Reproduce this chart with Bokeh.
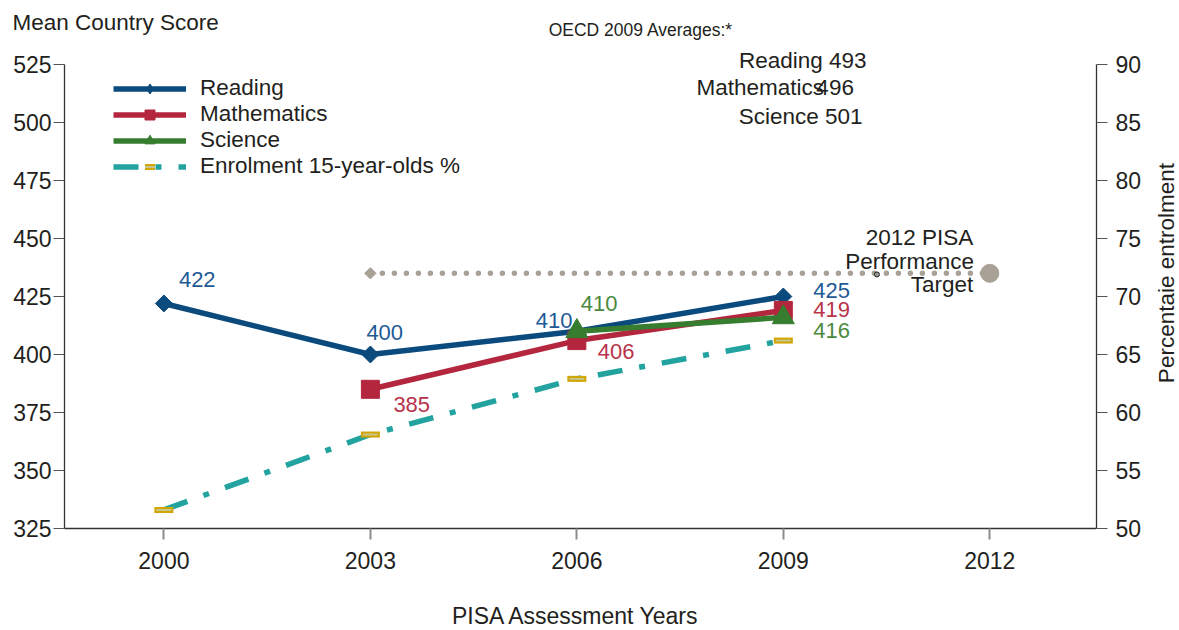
from bokeh.plotting import figure
from bokeh.models import (Range1d, LinearAxis, FixedTicker, Label, Legend, LegendItem)
from bokeh.core.properties import value
from bokeh.embed import file_html
from bokeh.resources import INLINE

# ---------------- data ----------------
years = [2000, 2003, 2006, 2009]
reading = [422, 400, 410, 425]
math_years = [2003, 2006, 2009]
mathematics = [385, 406, 419]
sci_years = [2006, 2009]
science = [410, 416]
enrolment = [51.6, 58.1, 62.9, 66.2]          # right axis, %
target_years = [2003, 2012]
target = [435, 435]
oecd_labels = ["Reading", "Mathematics", "Science"]
oecd_values = [493, 496, 501]
x_ticks = [2000, 2003, 2006, 2009, 2012]
left_ticks = [325, 350, 375, 400, 425, 450, 475, 500, 525]
right_ticks = [50, 55, 60, 65, 70, 75, 80, 85, 90]

# ---------------- styles ----------------
FONT = "Liberation Sans"
TXT = "#231f20"
FS = "22.5px"
TICK_FS = "23px"
C_READ, C_READ_T = "#0b4a7d", "#1e5a96"
C_MATH, C_MATH_T = "#b3263e", "#b8334b"
C_SCI, C_SCI_T = "#367d2f", "#4a8a3d"
C_ENR = "#23a39f"
C_GOLD, C_GOLD_FILL = "#d1a600", "#c9c58e"
C_TGT = "#a8a196"

p = figure(width=1179, height=630, output_backend="svg", toolbar_location=None,
           x_range=Range1d(1998.5557, 2013.5503), y_range=Range1d(325, 525),
           min_border_left=64, min_border_right=83, min_border_top=64,
           min_border_bottom=102)
p.xgrid.visible = False
p.ygrid.visible = False
p.outline_line_color = None
p.background_fill_color = "white"
p.border_fill_color = "white"
p.extra_y_ranges = {"enrol": Range1d(50, 90)}

def style_axis(ax, standoff, tick_color="#555555", tick_width=1):
    ax.axis_line_color = "#333333"
    ax.axis_line_width = 1.3
    ax.major_tick_line_color = tick_color
    ax.major_tick_line_width = tick_width
    ax.major_tick_out = 11
    ax.major_tick_in = 0
    ax.minor_tick_line_color = None
    ax.major_label_standoff = standoff
    ax.major_label_text_font = FONT
    ax.major_label_text_font_size = TICK_FS
    ax.major_label_text_color = TXT

xa = p.xaxis[0]
xa.ticker = FixedTicker(ticks=x_ticks)
style_axis(xa, 12, "#8c8c8c", 2)

ya = p.yaxis[0]
ya.ticker = FixedTicker(ticks=left_ticks)
style_axis(ya, 2)

ra = LinearAxis(y_range_name="enrol", ticker=FixedTicker(ticks=right_ticks))
style_axis(ra, 8)
p.add_layout(ra, "right")

# target line
p.line(target_years, target, line_color=C_TGT, line_width=5.5,
       line_dash="0 12", line_cap="round")
p.scatter([target_years[0]], [target[0]], marker="square", angle=0.785398,
          size=8, fill_color=C_TGT, line_color=C_TGT)
p.scatter([target_years[-1]], [target[-1]], marker="circle", size=18,
          fill_color=C_TGT, line_color=C_TGT)
# small annotation pointer of the target note
p.scatter([2010.36], [434.5], marker="circle", size=5, fill_color="#999999",
          line_color="#222222", line_width=1)

# enrolment
e_line = p.line(years, enrolment, y_range_name="enrol", line_color=C_ENR,
                line_width=5.5, line_dash="25 17 6 17")
e_m1 = p.scatter(years, enrolment, y_range_name="enrol", marker="dash", size=19,
                 line_color=C_GOLD, line_width=6)
e_m2 = p.scatter(years, enrolment, y_range_name="enrol", marker="dash", size=15,
                 line_color=C_GOLD_FILL, line_width=2)

# reading
r_line = p.line(years, reading, line_color=C_READ, line_width=5.5)
r_pts = p.scatter(years, reading, marker="square", angle=0.785398, size=12,
                  fill_color=C_READ, line_color=C_READ)
r_leg = p.scatter(years, reading, marker="diamond", size=0.01,
                  fill_color=C_READ, line_color=C_READ)
# mathematics
m_line = p.line(math_years, mathematics, line_color=C_MATH, line_width=5.5)
m_pts = p.scatter(math_years, mathematics, marker="square", size=18,
                  fill_color=C_MATH, line_color=C_MATH)
# science
s_line = p.line(sci_years, science, line_color=C_SCI, line_width=5.5)
s_pts = p.scatter(sci_years, science, marker="triangle", size=22,
                  fill_color=C_SCI, line_color=C_SCI)

# data labels
def labels(xs, ys, dx, dy, color):
    p.text(xs, ys, text=[f"{v:.0f}" for v in ys], x_offset=dx, y_offset=dy,
           text_align="left", text_baseline="middle", text_color=color,
           text_font=value(FONT), text_font_size="22px")

labels(years, reading, [15, -4, -41, 30], [-24, -22, -11, -6], C_READ_T)
labels(math_years, mathematics, [23, 21, 30], [15, 11, -1], C_MATH_T)
labels(sci_years, science, [4, 30], [-28, 13], C_SCI_T)

# legend
legend = Legend(items=[
    LegendItem(label="Reading", renderers=[r_line, r_leg]),
    LegendItem(label="Mathematics", renderers=[m_line, m_pts]),
    LegendItem(label="Science", renderers=[s_line, s_pts]),
    LegendItem(label="Enrolment 15-year-olds %", renderers=[e_line, e_m1, e_m2]),
], location=(49, 349))
legend.background_fill_alpha = 0
legend.border_line_color = None
legend.padding = 0
legend.margin = 0
legend.spacing = 0
legend.glyph_width = 73
legend.glyph_height = 25
legend.label_height = 25
legend.label_standoff = 14
legend.label_text_font = FONT
legend.label_text_font_size = FS
legend.label_text_color = TXT
p.add_layout(legend)

# annotations / titles (data-unit positions; side-panel ones are not clipped)
def note(x, y, text, align="left", size=FS, angle=0.0, place="center"):
    lab = Label(x=x, y=y, text=text, text_align=align, text_baseline="middle",
                text_font=FONT, text_font_size=size, text_color=TXT, angle=angle)
    p.add_layout(lab, place)

note(1997.80, 543.3, "Mean Country Score", place="above")
note(2005.59, 539.9, "OECD 2009 Averages:*", size="17.5px", place="above")
note(2010.21, 526.9, f"{oecd_labels[0]} {oecd_values[0]}", align="right", place="below")
note(2009.59, 514.9, oecd_labels[1], align="right")
note(2009.48, 514.9, f"{oecd_values[1]}", align="left")
note(2010.15, 502.4, f"{oecd_labels[2]} {oecd_values[2]}", align="right")
note(2011.76, 450.6, "2012 PISA", align="right")
note(2011.77, 440.3, "Performance", align="right")
note(2011.76, 430.0, "Target", align="right")
note(2005.99, 287.2, "PISA Assessment Years", align="center", size="23px", place="below")
note(2014.57, 435.1, "Percentaie entrolment", align="center", angle=1.5707963,
     place="right")

open("out.html", "w").write(file_html(p, INLINE))
